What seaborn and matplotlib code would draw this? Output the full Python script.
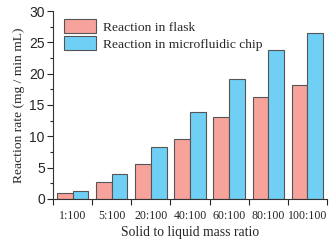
import numpy as np
import pandas as pd
import matplotlib
matplotlib.use("Agg")
import matplotlib.pyplot as plt
import seaborn as sns
from matplotlib.ticker import MultipleLocator, FixedLocator

# dane
ratios = ["1:100", "5:100", "20:100", "40:100", "60:100", "80:100", "100:100"]
flask = [1.0, 2.7, 5.6, 9.6, 13.1, 16.3, 18.2]
chip = [1.3, 4.0, 8.3, 13.9, 19.1, 23.8, 26.5]
series = ["Reaction in flask", "Reaction in microfluidic chip"]
colors = ["#F7A39C", "#70CFF5"]

df = pd.DataFrame({
    "ratio": ratios * 2,
    "rate": flask + chip,
    "series": [series[0]] * len(ratios) + [series[1]] * len(ratios),
})

sns.set_style("ticks")
plt.rcParams['font.family'] = ['Liberation Serif', 'DejaVu Serif']

fig = plt.figure(figsize=(3.36, 2.45), dpi=100)
ax = fig.add_axes([0.158, 0.188, 0.815, 0.767])

sns.barplot(data=df, x="ratio", y="rate", hue="series", palette=colors,
            saturation=1, width=0.8, edgecolor="#555555", linewidth=0.8, ax=ax)

ax.set_xlim(-0.5, 6.5)
ax.set_ylim(0, 30)
sns.despine(ax=ax)

# y ticks
ax.yaxis.set_major_locator(MultipleLocator(5))
ax.yaxis.set_minor_locator(MultipleLocator(2.5))
ax.tick_params(axis="y", which="major", length=4, width=0.8, direction="out", labelsize=10, pad=2)
ax.tick_params(axis="y", which="minor", length=2.5, width=0.8, direction="out")
for lab in ax.get_yticklabels():
    lab.set_family(['Liberation Sans', 'DejaVu Sans'])

# x ticks: kreski na granicach, etykiety w srodku
ax.xaxis.set_major_locator(FixedLocator(np.arange(len(ratios))))
ax.set_xticklabels(ratios)
ax.xaxis.set_minor_locator(FixedLocator(np.arange(-0.5, len(ratios), 1.0)))
ax.tick_params(axis="x", which="major", length=0, labelsize=8.6, pad=8)
ax.tick_params(axis="x", which="minor", length=4, width=0.8, direction="out")

for s in ax.spines.values():
    s.set_linewidth(0.8)
    s.set_color("#333333")

ax.set_xlabel("Solid to liquid mass ratio", fontsize=9.8, labelpad=3)
ax.set_ylabel("Reaction rate (mg / min mL)", fontsize=9.7, labelpad=3)

leg = ax.legend(loc="upper left", bbox_to_anchor=(0.01, 1.0), frameon=False,
                fontsize=9.7, handlelength=2.4, handleheight=1.2,
                handletextpad=0.5, labelspacing=0.2, borderaxespad=0.2)
leg.set_title(None)

fig.savefig("out.png", dpi=100)
plt.close(fig)
